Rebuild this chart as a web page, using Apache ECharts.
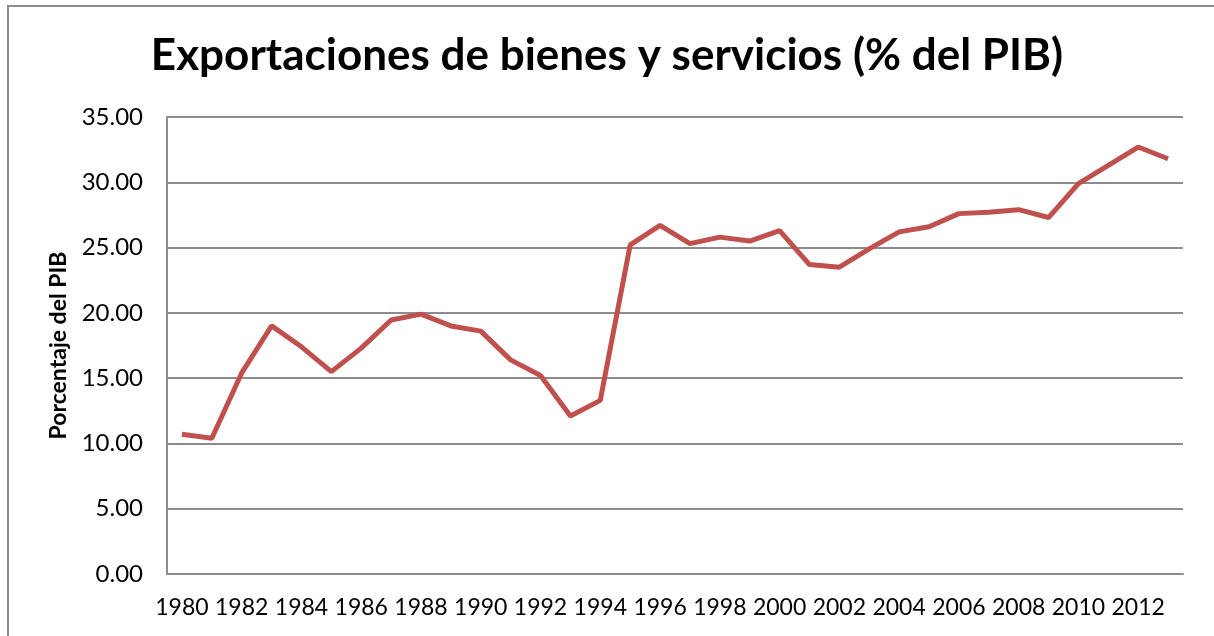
<!DOCTYPE html>
<html>
<head>
<meta charset="utf-8">
<script src="https://cdn.jsdelivr.net/npm/echarts@6/dist/echarts.min.js"></script>
<style>
  html, body { margin: 0; padding: 0; background: #fff; }
  #chart { position: absolute; left: 0; top: 0; width: 1214px; height: 636px; }
  .frame { position: absolute; left: 7px; top: 5px; width: 1220px; height: 650px; border: 2px solid #8c8c8c; box-sizing: border-box; }
</style>
</head>
<body>
<div class="frame"></div>
<div id="chart"></div>
<script>
// años 1980-2013
const years = [
  "1980", "1981", "1982", "1983", "1984", "1985", "1986", "1987", "1988", "1989",
  "1990", "1991", "1992", "1993", "1994", "1995", "1996", "1997", "1998", "1999",
  "2000", "2001", "2002", "2003", "2004", "2005", "2006", "2007", "2008", "2009",
  "2010", "2011", "2012", "2013",
];
// exportaciones (% del PIB)
const exportaciones = [
  10.7, 10.4, 15.4, 19.0, 17.4, 15.5, 17.3, 19.45, 19.9, 19.0,
  18.6, 16.4, 15.2, 12.1, 13.3, 25.2, 26.7, 25.3, 25.8, 25.5,
  26.3, 23.7, 23.5, 24.9, 26.2, 26.6, 27.6, 27.7, 27.9, 27.3,
  29.9, 31.3, 32.7, 31.8,
];

const chart = echarts.init(document.getElementById("chart"));
chart.setOption({
  animation: false,
  title: {
    text: "Exportaciones de bienes y servicios (% del PIB)",
    left: "center",
    top: 29,
    textStyle: {
      fontFamily: "Lato",
      fontWeight: "bold",
      fontSize: 44,
      color: "#000",
    },
  },
  grid: {
    left: 167,
    right: 31,
    top: 117,
    bottom: 62,
  },
  xAxis: {
    type: "category",
    data: years,
    boundaryGap: true,
    axisTick: { show: false },
    axisLine: { lineStyle: { color: "#8c8c8c", width: 2 } },
    axisLabel: {
      interval: 1,
      margin: 22,
      fontFamily: "Lato",
      fontSize: 23,
      color: "#000",
    },
  },
  yAxis: {
    type: "value",
    min: 0,
    max: 35,
    interval: 5,
    name: "Porcentaje del PIB",
    nameLocation: "middle",
    nameGap: 97,
    nameRotate: 90,
    nameTextStyle: {
      fontFamily: "Lato",
      fontWeight: "bold",
      fontSize: 23,
      color: "#000",
    },
    axisLine: { show: true, lineStyle: { color: "#8c8c8c", width: 2 } },
    axisTick: { show: false },
    splitLine: { lineStyle: { color: "#8c8c8c", width: 2 } },
    axisLabel: {
      margin: 24,
      fontFamily: "Lato",
      fontSize: 24,
      color: "#000",
      formatter: (v) => v.toFixed(2),
    },
  },
  series: [
    {
      type: "line",
      data: exportaciones,
      symbol: "none",
      lineStyle: { color: "#c0504d", width: 5 },
    },
  ],
});
</script>
</body>
</html>
